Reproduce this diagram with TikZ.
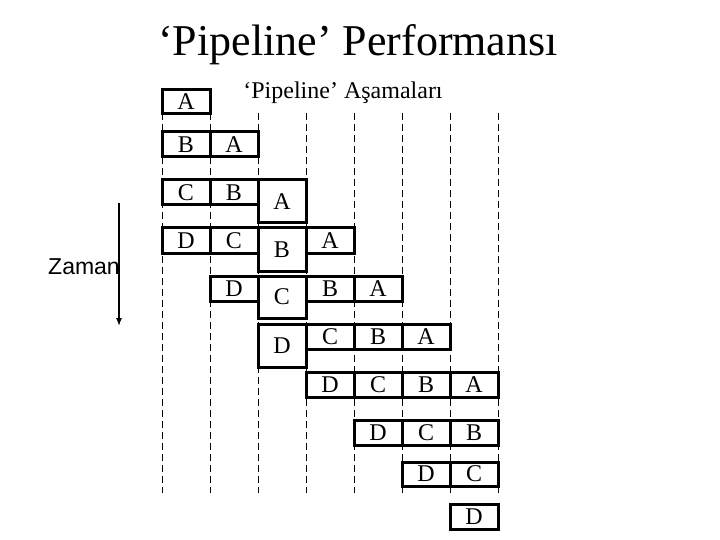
\documentclass[tikz,border=0pt]{standalone}
\usepackage{fontspec}
\usetikzlibrary{arrows.meta}
\setmainfont{Liberation Serif}
\newfontfamily\arialf{Liberation Sans}
\begin{document}
\begin{tikzpicture}[x=1pt,y=-1pt,
  cell/.style={draw=black,line width=3pt,fill=white,inner sep=0pt,font=\fontsize{24}{24}\selectfont},
  guide/.style={black,line width=1pt,dash pattern=on 7pt off 4pt}]
\useasboundingbox (0,0) rectangle (720,540);
\node (title) at (358,45) {\fontsize{44}{46}\selectfont ‘Pipeline’ Performansı};
\node (sub) at (343,93) {\fontsize{24}{26}\selectfont ‘Pipeline’ Aşamaları};
\foreach \i in {0,...,7} \draw[guide] (162+48*\i,113) -- (162+48*\i,493);
\foreach \n/\c/\t/\b/\l in {
 a1/0/90/114/A,
 b2/0/132/157/B, a2/1/132/157/A,
 c3/0/180/205/C, b3/1/180/205/B, a3/2/180/223/A,
 d4/0/228/253/D, c4/1/228/253/C, b4/2/228/271/B, a4/3/228/253/A,
 d5/1/276/301/D, c5/2/276/318/C, b5/3/276/301/B, a5/4/276/301/A,
 d6/2/324/367/D, c6/3/324/349/C, b6/4/324/349/B, a6/5/324/349/A,
 d7/3/372/397/D, c7/4/372/397/C, b7/5/372/397/B, a7/6/372/397/A,
 d8/4/420/445/D, c8/5/420/445/C, b8/6/420/445/B,
 d9/5/462/486/D, c9/6/462/486/C,
 d10/6/504/529/D}
 \node[cell,minimum width=48pt,minimum height={\b-\t}] (\n) at (186+48*\c,{(\t+\b)/2}) {\l};
\node (zaman) at (84,267) {\arialf\fontsize{23}{24}\selectfont Zaman};
\coordinate (zs) at (119,203);
\coordinate (ze) at (119,326);
\draw[line width=1.3pt,-{Latex[length=8pt,width=6pt]}] (zs) -- (ze);
\end{tikzpicture}
\end{document}
